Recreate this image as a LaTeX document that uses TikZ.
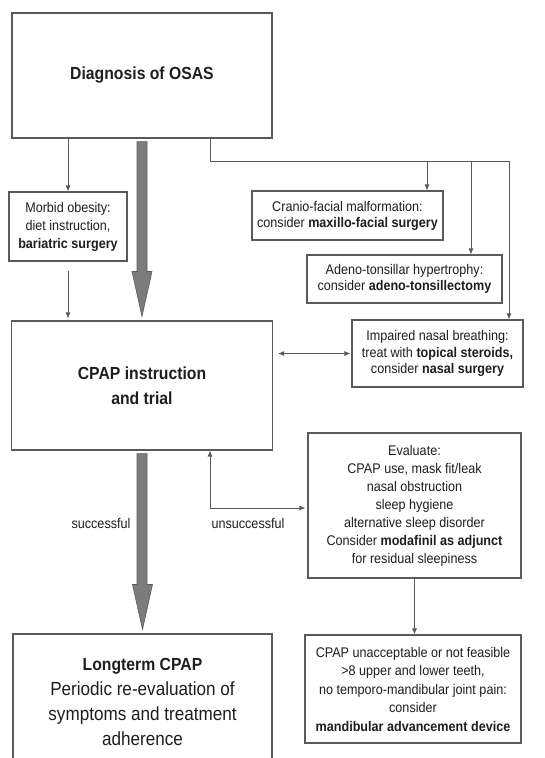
\documentclass[tikz,border=0pt]{standalone}
\usepackage{fontspec}
\setmainfont[FakeStretch=0.9]{Liberation Sans}
\usetikzlibrary{arrows.meta,calc}
\definecolor{lc}{HTML}{5A5A5A}
\definecolor{tc}{HTML}{1E1E1E}
\definecolor{bigfill}{HTML}{7C7C7C}
\tikzset{
  box/.style={draw=lc, line width=1.1pt, fill=white, rectangle, inner sep=0pt, align=center, text=tc},
  small/.style={font=\fontsize{14}{18}\selectfont},
  conn/.style={draw=lc, line width=0.9pt},
  arr/.style={conn, -{Latex[length=6pt,width=5pt]}},
  arrboth/.style={conn, {Latex[length=6pt,width=5pt]}-{Latex[length=6pt,width=5pt]}},
  bigarrow/.style={fill=bigfill, draw=lc, line width=0.6pt, line join=miter},
  lbl/.style={text=tc, font=\fontsize{14}{17}\selectfont, inner sep=0pt}
}
\begin{document}
\begin{tikzpicture}[x=1pt,y=-1pt]
\useasboundingbox[fill=white] (0,0) rectangle (544,758);

% boxes
\node[box, minimum width=260, minimum height=125, font=\fontsize{17.5}{25}\selectfont\bfseries] (diag) at (142,75.5) {Diagnosis of OSAS};
\node[box, small, minimum width=118, minimum height=69] (obes) at (68,226.5) {Morbid obesity:\\diet instruction,\\\textbf{bariatric surgery}};
\node[box, minimum width=261, minimum height=129, font=\fontsize{17.5}{25}\selectfont\bfseries] (cpap) at (142,385.5) {CPAP instruction\\and trial};
\node[box, font=\fontsize{14}{16}\selectfont, minimum width=191, minimum height=49] (cran) at (347.5,215.5) {Cranio-facial malformation:\\consider \textbf{maxillo-facial surgery}};
\node[box, font=\fontsize{14}{16}\selectfont, minimum width=195, minimum height=48] (aden) at (404.5,279) {Adeno-tonsillar hypertrophy:\\consider \textbf{adeno-tonsillectomy}};
\node[box, font=\fontsize{14}{16.5}\selectfont, minimum width=171, minimum height=67] (nasal) at (437.5,353.5) {Impaired nasal breathing:\\treat with \textbf{topical steroids,}\\consider \textbf{nasal surgery}};
\node[box, small, minimum width=213, minimum height=145] (eval) at (414.5,505.5) {Evaluate:\\CPAP use, mask fit/leak\\nasal obstruction\\sleep hygiene\\alternative sleep disorder\\Consider \textbf{modafinil as adjunct}\\for residual sleepiness};
\node[box, font=\fontsize{14}{18.5}\selectfont, minimum width=216, minimum height=108] (mad) at (413,689) {CPAP unacceptable or not feasible\\>8 upper and lower teeth,\\no temporo-mandibular joint pain:\\consider\\\textbf{mandibular advancement device}};
\node[box, minimum width=259, minimum height=136, font=\fontsize{19}{25}\selectfont] (long) at (142.5,702) {{\fontsize{17.5}{25}\selectfont\bfseries Longterm CPAP}\\Periodic re-evaluation of\\symptoms and treatment\\adherence};

% big gray arrows
\draw[bigarrow] ($(diag.south)+(-5,3)$) |- ($(cpap.north)+(-10,-49)$) -- ($(cpap.north)+(0,-4)$) -- ($(cpap.north)+(10,-49)$) -| ($(diag.south)+(5,3)$) -- cycle;
\draw[bigarrow] ($(cpap.south)+(-5,3)$) |- ($(long.north)+(-10,-49)$) -- ($(long.north)+(0,-4)$) -- ($(long.north)+(10,-49)$) -| ($(cpap.south)+(5,3)$) -- cycle;

% obesity arrows
\draw[arr] (obes.north |- diag.south) -- (obes.north);
\draw[arr] ($(obes.south)+(0,9)$) -- ($(obes.south |- cpap.north)+(0,-2)$);

% branch to the right
\coordinate (j1) at (427,161);
\coordinate (j2) at (471,161);
\coordinate (j3) at (509,161);
\draw[arr] ($(diag.south)+(68,0)$) |- (j3) -- (j3 |- nasal.north);
\draw[arr] (j1) -- (j1 |- cran.north);
\draw[arr] (j2) -- (j2 |- aden.north);

% double arrow
\draw[arrboth] ($(cpap.east |- nasal.west)+(5,0)$) -- ($(nasal.west)+(-1,0)$);

% unsuccessful loop
\coordinate (u) at (210,508);
\draw[arr] (u) -- ($(u -| eval.west)+(-2,0)$);
\draw[arr] (u) -- (u |- cpap.south);

% evaluate to MAD
\draw[arr] (eval.south) -- (eval.south |- mad.north);

% labels
\node[lbl] (succ) at (101,523) {successful};
\node[lbl] (unsucc) at (248,523) {unsuccessful};
\end{tikzpicture}
\end{document}
